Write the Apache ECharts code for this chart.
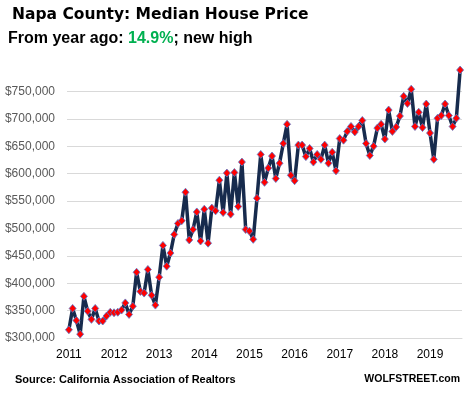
<!DOCTYPE html>
<html>
<head>
<meta charset="utf-8">
<script src="https://cdn.jsdelivr.net/npm/echarts@6/dist/echarts.min.js"></script>
<style>
  html, body { margin: 0; padding: 0; background: #fff; }
  #chart { width: 472px; height: 397px; }
</style>
</head>
<body>
<div id="chart"></div>
<script>
// 年份标签
var years = ['2011','2012','2013','2014','2015','2016','2017','2018','2019'];
// 每月中位房价 (美元)
var p2011 = [315000,354000,332000,307000,376000,349000,334000,354000,331000,331000,340000,347000];
var p2012 = [346000,347000,351000,364000,343000,358000,420000,385000,382000,425000,378000,360000];
var p2013 = [411000,469000,431000,455000,489000,509000,514000,566000,479000,498000,530000,477000];
var p2014 = [535000,473000,537000,532000,588000,529000,601000,526000,602000,540000,621000,498000];
var p2015 = [495000,480000,555000,635000,584000,610000,632000,591000,619000,655000,690000,597000];
var p2016 = [587000,652000,652000,631000,646000,621000,635000,626000,652000,619000,639000,605000];
var p2017 = [664000,661000,677000,686000,676000,686000,697000,655000,633000,650000,683000,690000];
var p2018 = [663000,716000,677000,685000,705000,741000,728000,754000,686000,712000,684000,727000];
var p2019 = [674000,626000,701000,706000,727000,706000,686000,701000,789000];
var yTicks = [300000,350000,400000,450000,500000,550000,600000,650000,700000,750000];

var prices = [].concat(p2011,p2012,p2013,p2014,p2015,p2016,p2017,p2018,p2019);
var months = [];
for (var i = 0; i < prices.length; i++) {
    months.push(years[Math.floor(i / 12)] + '-' + (i % 12 + 1));
}

var myChart = echarts.init(document.getElementById('chart'));

var option = {
    backgroundColor: '#fff',
    animation: false,
    grid: {
        left: 67,
        right: 10,
        top: 91.4,
        bottom: 59
    },
    xAxis: {
        type: 'category',
        data: months,
        boundaryGap: true,
        axisLine: { lineStyle: { color: '#d9d9d9', width: 1 } },
        axisTick: { show: false },
        axisLabel: {
            interval: function (idx) { return idx % 12 === 0; },
            formatter: function (v) { return v.split('-')[0]; },
            color: '#000',
            fontSize: 12,
            fontFamily: 'Liberation Sans',
            margin: 11
        },
        splitLine: { show: false }
    },
    yAxis: {
        type: 'value',
        min: yTicks[0],
        max: yTicks[yTicks.length - 1],
        interval: 50000,
        axisLine: { show: false },
        axisTick: { show: false },
        axisLabel: {
            color: '#595959',
            fontSize: 12,
            fontFamily: 'Liberation Sans',
            margin: 12,
            formatter: function (v) {
                return '$' + v.toString().replace(/\B(?=(\d{3})+(?!\d))/g, ',');
            }
        },
        splitLine: { lineStyle: { color: '#d9d9d9', width: 1 } }
    },
    series: [
        {
            type: 'line',
            data: prices,
            clip: false,
            showAllSymbol: true,
            symbol: 'diamond',
            symbolSize: [7, 8],
            lineStyle: { color: '#172b4d', width: 3.5 },
            itemStyle: { color: '#ff0000', borderColor: '#5a78c8', borderWidth: 0.8 },
            z: 3
        }
    ],
    graphic: [
        {
            type: 'text', left: 12, top: 7,
            style: {
                text: 'Napa County: Median House Price',
                font: 'bold 15.5px "DejaVu Sans"',
                fill: '#000'
            }
        },
        {
            type: 'text', left: 8, top: 31,
            style: {
                text: '{a|From year ago: }{g|14.9%}{a|; new high}',
                rich: {
                    a: { font: 'bold 16px "Liberation Sans"', fill: '#000' },
                    g: { font: 'bold 16px "Liberation Sans"', fill: '#00b050' }
                }
            }
        },
        {
            type: 'text', left: 15, top: 374,
            style: {
                text: 'Source: California Association of Realtors',
                font: 'bold 11px "Liberation Sans"',
                fill: '#000'
            }
        },
        {
            type: 'text', right: 12, top: 374,
            style: {
                text: 'WOLFSTREET.com',
                font: 'bold 10.5px "Liberation Sans"',
                fill: '#000'
            }
        }
    ]
};
myChart.setOption(option);
</script>
</body>
</html>
